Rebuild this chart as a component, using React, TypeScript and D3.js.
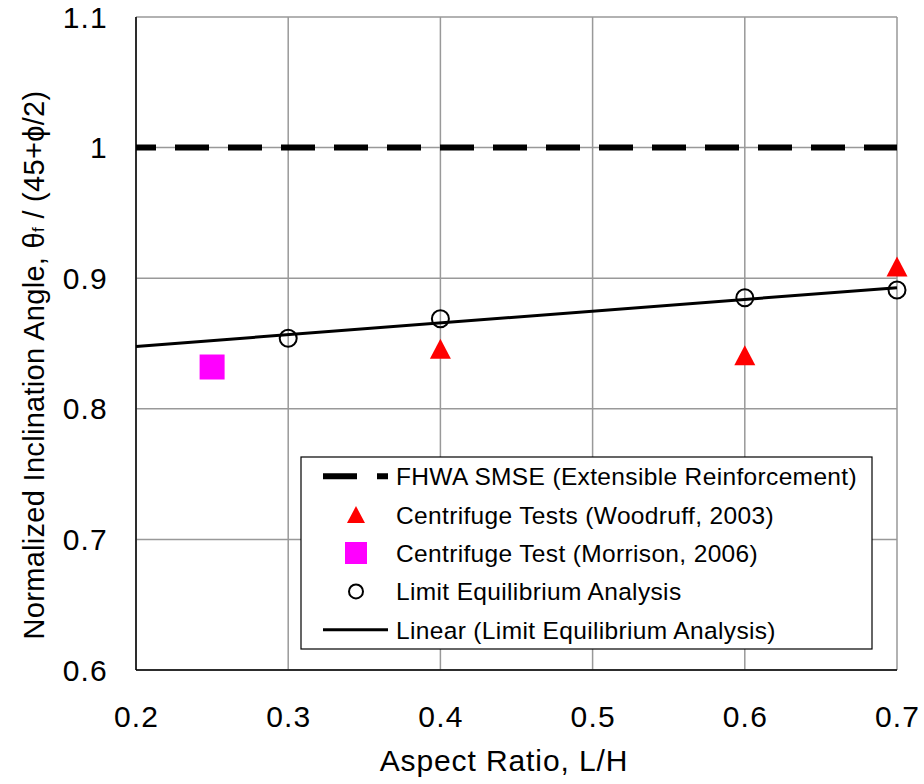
import React from "react";
import * as d3 from "d3";

const xTicks = [0.2, 0.3, 0.4, 0.5, 0.6, 0.7];
const yTicks = [0.6, 0.7, 0.8, 0.9, 1.0, 1.1];
const xTickLabels = ["0.2", "0.3", "0.4", "0.5", "0.6", "0.7"];
const yTickLabels = ["0.6", "0.7", "0.8", "0.9", "1", "1.1"];

const fhwaValue = 1.0;
const woodruffX = [0.4, 0.6, 0.7];
const woodruffY = [0.846, 0.841, 0.909];
const morrisonX = [0.25];
const morrisonY = [0.832];
const leX = [0.3, 0.4, 0.6, 0.7];
const leY = [0.854, 0.869, 0.885, 0.891];

const legendLabels = [
  "FHWA SMSE (Extensible Reinforcement)",
  "Centrifuge Tests (Woodruff, 2003)",
  "Centrifuge Test (Morrison, 2006)",
  "Limit Equilibrium Analysis",
  "Linear (Limit Equilibrium Analysis)",
];

const W = 924;
const H = 784;
const L = 136, R = 897, T = 17, B = 670;
const FONT = "'Liberation Sans', Arial, Helvetica, sans-serif";

function fitLine(xs: number[], ys: number[]) {
  const mx = d3.mean(xs)!;
  const my = d3.mean(ys)!;
  let sxy = 0, sxx = 0;
  xs.forEach((x, i) => {
    sxy += (x - mx) * (ys[i] - my);
    sxx += (x - mx) * (x - mx);
  });
  const slope = sxy / sxx;
  return (x: number) => my + slope * (x - mx);
}

function tri(cx: number, cy: number, w: number, h: number) {
  return `M${cx - w / 2},${cy + h / 2}L${cx + w / 2},${cy + h / 2}L${cx},${cy - h / 2}Z`;
}

export default function App() {
  const x = d3.scaleLinear().domain([0.2, 0.7]).range([L, R]);
  const y = d3.scaleLinear().domain([0.6, 1.1]).range([B, T]);
  const trend = fitLine(leX, leY);
  const lineGen = d3
    .line<number>()
    .x((d) => x(d))
    .y((d) => y(trend(d)));
  const trendPath = lineGen(x.domain())!;

  const legX = 301, legY = 457, legW = 571, legH = 192;
  const rowH = legH / 5;
  const symX = 356;
  const textX = 396;

  return (
    <svg
      width={W}
      height={H}
      style={{ position: "absolute", left: 0, top: 0, background: "#fff" }}
      fontFamily={FONT}
    >
      <rect x={0} y={0} width={W} height={H} fill="#fff" />
      {/* grid */}
      {xTicks.map((t) => (
        <line key={"gx" + t} x1={x(t)} x2={x(t)} y1={T} y2={B} stroke="#999" strokeWidth={1.5} />
      ))}
      {yTicks.map((t) => (
        <line key={"gy" + t} x1={L} x2={R} y1={y(t)} y2={y(t)} stroke="#999" strokeWidth={1.5} />
      ))}
      {/* axes */}
      <line x1={L} x2={L} y1={T} y2={B} stroke="#000" strokeWidth={1.5} />
      <line x1={L} x2={R} y1={B} y2={B} stroke="#000" strokeWidth={1.5} />

      {/* FHWA dashed line */}
      <line
        x1={x(0.2)}
        x2={x(0.7)}
        y1={y(fhwaValue)}
        y2={y(fhwaValue)}
        stroke="#000"
        strokeWidth={6}
        strokeDasharray="34 19"
        strokeDashoffset={14}
      />

      {/* trend line */}
      <path d={trendPath} fill="none" stroke="#000" strokeWidth={3} />

      {/* LE circles */}
      {leX.map((v, i) => (
        <circle key={"c" + i} cx={x(v)} cy={y(leY[i])} r={8.5} fill="none" stroke="#000" strokeWidth={2} />
      ))}

      {/* Woodruff triangles */}
      {woodruffX.map((v, i) => (
        <path key={"t" + i} d={tri(x(v), y(woodruffY[i]), 21, 20)} fill="#ff0000" />
      ))}

      {/* Morrison square */}
      {morrisonX.map((v, i) => (
        <rect key={"s" + i} x={x(v) - 12.5} y={y(morrisonY[i]) - 12.5} width={25} height={25} fill="#ff00ff" />
      ))}

      {/* tick labels */}
      {xTicks.map((t, i) => (
        <text key={"xl" + t} x={x(t) + 0.6} y={727} textAnchor="middle" fontSize={30} letterSpacing={1.2} fill="#000">
          {xTickLabels[i]}
        </text>
      ))}
      {yTicks.map((t, i) => (
        <text key={"yl" + t} x={108} y={y(t) + 10.5} textAnchor="end" fontSize={30} letterSpacing={1.2} fill="#000">
          {yTickLabels[i]}
        </text>
      ))}

      {/* axis titles */}
      <text x={504} y={771} textAnchor="middle" fontSize={30} letterSpacing={0.9} fill="#000">
        Aspect Ratio, L/H
      </text>
      <text transform="translate(44,365) rotate(-90)" textAnchor="middle" fontSize={29} letterSpacing={0.3} fill="#000">
        Normalized Inclination Angle, θ
        <tspan fontSize={17}>f</tspan>
        <tspan> / (45+ϕ/2)</tspan>
      </text>

      {/* legend */}
      <rect x={legX} y={legY} width={legW} height={legH} fill="#fff" stroke="#000" strokeWidth={1.2} />
      {legendLabels.map((lab, i) => {
        const cy = legY + rowH * (i + 0.5);
        let sym: React.ReactNode = null;
        if (i === 0)
          sym = <line x1={323} x2={388} y1={cy} y2={cy} stroke="#000" strokeWidth={6} strokeDasharray="34 20" />;
        else if (i === 1) sym = <path d={tri(symX, cy, 18, 17)} fill="#ff0000" />;
        else if (i === 2) sym = <rect x={symX - 11} y={cy - 11} width={22} height={22} fill="#ff00ff" />;
        else if (i === 3) sym = <circle cx={symX} cy={cy} r={7} fill="none" stroke="#000" strokeWidth={2} />;
        else sym = <line x1={323} x2={388} y1={cy} y2={cy} stroke="#000" strokeWidth={3} />;
        return (
          <g key={"lg" + i}>
            {sym}
            <text x={textX} y={cy + 9} fontSize={24.5} letterSpacing={0.35} fill="#000">
              {lab}
            </text>
          </g>
        );
      })}
    </svg>
  );
}
